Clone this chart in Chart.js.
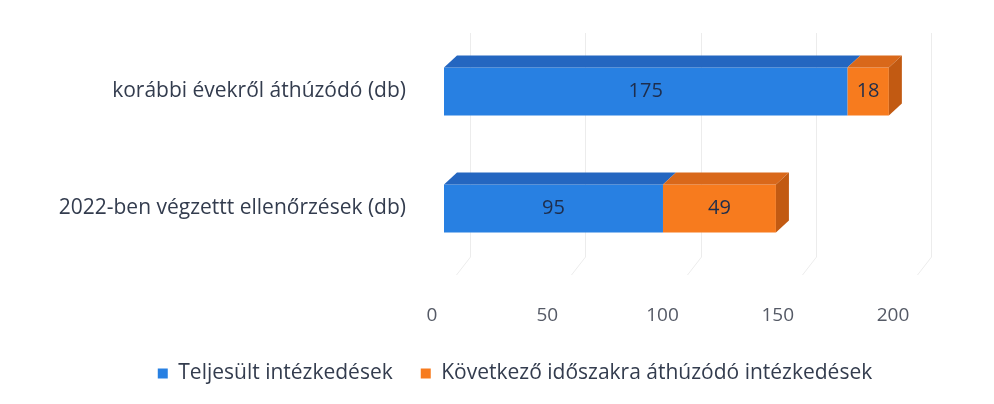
<!DOCTYPE html>
<html>
<head>
<meta charset="utf-8">
<script src="https://cdn.jsdelivr.net/npm/chart.js@4/dist/chart.umd.min.js"></script>
<style>
  html, body { margin: 0; padding: 0; background: #fff; }
  .wrap { position: relative; width: 994px; height: 404px; }
</style>
</head>
<body>
<div class="wrap"><canvas id="c"></canvas></div>
<script>
const categories = ['korábbi évekről áthúzódó (db)', '2022-ben végzettt ellenőrzések (db)'];
const done       = [175, 95];
const carried    = [18, 49];
const seriesNames = ['Teljesült intézkedések', 'Következő időszakra áthúzódó intézkedések'];
const xTicks = [0, 50, 100, 150, 200];

const FONT = '"Open Sans", "Noto Sans", sans-serif';
const BLUE  = { front: '#2880e2', top: '#2466c0', side: '#1d58a8' };
const ORANGE = { front: '#f77b1e', top: '#d9681a', side: '#c25a12' };
const DX = 13, DY = -12;

// fake 3D: top face + right side face, plus value labels
const bar3d = {
  id: 'bar3d',
  beforeDatasetsDraw(chart) {
    const { ctx, chartArea, scales: { x } } = chart;
    ctx.save();
    ctx.strokeStyle = '#ececec';
    ctx.lineWidth = 1;
    xTicks.forEach(v => {
      const px = Math.round(x.getPixelForValue(v)) + 26.5;
      ctx.beginPath();
      ctx.moveTo(px, chartArea.top);
      ctx.lineTo(px, chartArea.bottom - 10);
      ctx.lineTo(px - 14, chartArea.bottom + 8);
      ctx.stroke();
    });
    ctx.restore();
  },
  afterDatasetsDraw(chart) {
    const { ctx } = chart;
    const last = chart.data.datasets.length - 1;
    ctx.save();
    chart.data.datasets.forEach((ds, di) => {
      const col = di === 0 ? BLUE : ORANGE;
      chart.getDatasetMeta(di).data.forEach((bar, i) => {
        const left = Math.min(bar.base, bar.x), right = Math.max(bar.base, bar.x);
        const top = bar.y - bar.height / 2, bottom = bar.y + bar.height / 2;
        ctx.fillStyle = col.top;
        ctx.beginPath();
        ctx.moveTo(left, top);
        ctx.lineTo(left + DX, top + DY);
        ctx.lineTo(right + DX, top + DY);
        ctx.lineTo(right, top);
        ctx.closePath();
        ctx.fill();
        if (di === last) {
          ctx.fillStyle = col.side;
          ctx.beginPath();
          ctx.moveTo(right, top);
          ctx.lineTo(right + DX, top + DY);
          ctx.lineTo(right + DX, bottom + DY);
          ctx.lineTo(right, bottom);
          ctx.closePath();
          ctx.fill();
        }
        ctx.fillStyle = '#1e2d4c';
        ctx.font = '20px ' + FONT;
        ctx.textAlign = 'center';
        ctx.textBaseline = 'middle';
        ctx.fillText(ds.data[i], (left + right) / 2, bar.y);
      });
    });
    ctx.restore();
  }
};

new Chart(document.getElementById('c'), {
  type: 'bar',
  data: {
    labels: categories,
    datasets: [
      { label: seriesNames[0], data: done, backgroundColor: BLUE.front, borderWidth: 0 },
      { label: seriesNames[1], data: carried, backgroundColor: ORANGE.front, borderWidth: 0 },
    ],
  },
  options: {
    responsive: true, maintainAspectRatio: false, animation: false, indexAxis: 'y',
    layout: { padding: { left: 44, right: 8, top: 33, bottom: 10 } },
    plugins: {
      tooltip: { enabled: false },
      legend: {
        position: 'bottom',
        labels: { font: { family: FONT, size: 21 }, color: '#333c4e', boxWidth: 10, boxHeight: 10, padding: 28 },
      },
    },
    scales: {
      x: {
        stacked: true, min: 0, max: 200,
        grid: { display: false }, border: { display: false },
        afterBuildTicks: s => { s.ticks = xTicks.map(v => ({ value: v })); },
        ticks: { font: { family: FONT, size: 19 }, color: '#555a66', padding: 29, labelOffset: -12 },
        afterFit: s => { s.height = 68; },
      },
      y: {
        stacked: true,
        grid: { display: false }, border: { display: false },
        ticks: { font: { family: FONT, size: 21 }, color: '#333c4e', padding: 30 },
        afterFit: s => { s.width = 400; s.paddingTop = 0; s.paddingBottom = 0; },
      },
      // empty right-hand axis, only reserves room for the 3D depth
      yRight: {
        type: 'category', position: 'right',
        grid: { display: false }, border: { display: false },
        ticks: { display: false },
        afterFit: s => { s.width = 81; s.paddingTop = 0; s.paddingBottom = 0; },
      },
    },
    datasets: { bar: { categoryPercentage: 1, barPercentage: 0.41 } },
  },
  plugins: [bar3d],
});
</script>
</body>
</html>
